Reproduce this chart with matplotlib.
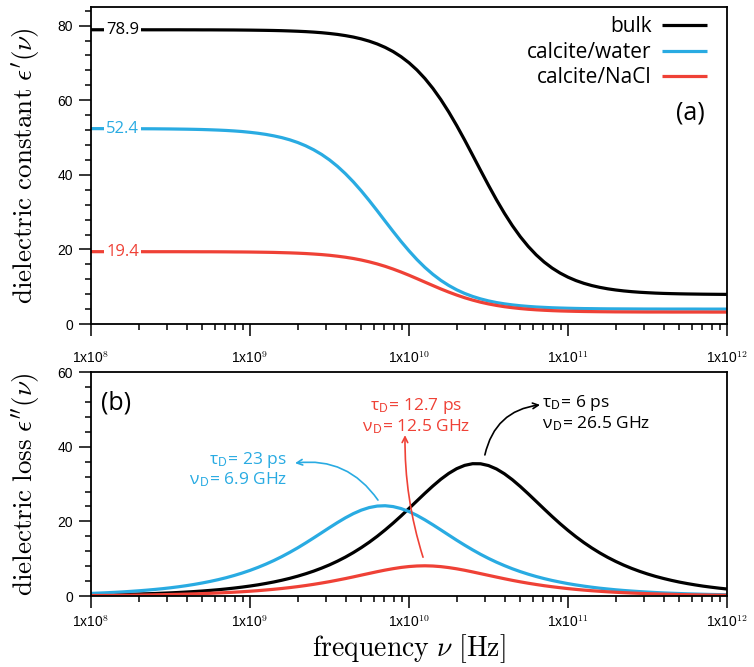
import numpy as np
import matplotlib
matplotlib.use("Agg")
import matplotlib.pyplot as plt

plt.rcParams['font.family'] = ['Liberation Sans', 'DejaVu Sans']
plt.rcParams['mathtext.fontset'] = 'cm'

# frequency grid, 20 points per decade from 1e8 to 1e12 Hz
freq = np.logspace(8, 12, 81)

# dielectric constant eps'(nu)
bulk_real = [78.90, 78.90, 78.90, 78.90, 78.90, 78.90, 78.90, 78.89, 78.89, 78.89,
             78.89, 78.89, 78.88, 78.88, 78.87, 78.87, 78.86, 78.85, 78.84, 78.82,
             78.80, 78.77, 78.74, 78.70, 78.65, 78.58, 78.50, 78.40, 78.27, 78.11,
             77.90, 77.65, 77.33, 76.94, 76.45, 75.84, 75.09, 74.17, 73.05, 71.68,
             70.05, 68.11, 65.83, 63.19, 60.19, 56.85, 53.21, 49.33, 45.29, 41.21,
             37.19, 33.32, 29.70, 26.38, 23.41, 20.80, 18.54, 16.62, 15.01, 13.67,
             12.56, 11.65, 10.91, 10.31, 9.83, 9.44, 9.13, 8.88, 8.68, 8.52,
             8.40, 8.29, 8.21, 8.15, 8.10, 8.06, 8.03, 8.00, 7.98, 7.96, 7.95]
water_real = [52.39, 52.39, 52.38, 52.38, 52.37, 52.37, 52.36, 52.35, 52.34, 52.32,
              52.30, 52.27, 52.24, 52.20, 52.15, 52.08, 52.00, 51.90, 51.77, 51.61,
              51.40, 51.15, 50.84, 50.45, 49.98, 49.39, 48.67, 47.79, 46.73, 45.48,
              44.00, 42.28, 40.31, 38.11, 35.69, 33.09, 30.37, 27.58, 24.82, 22.14,
              19.62, 17.28, 15.18, 13.33, 11.71, 10.34, 9.17, 8.20, 7.40, 6.74,
              6.20, 5.76, 5.41, 5.13, 4.90, 4.72, 4.57, 4.46, 4.36, 4.29,
              4.23, 4.18, 4.14, 4.12, 4.09, 4.07, 4.06, 4.05, 4.04, 4.03,
              4.02, 4.02, 4.01, 4.01, 4.01, 4.01, 4.01, 4.00, 4.00, 4.00, 4.00]
nacl_real = [19.40, 19.40, 19.40, 19.40, 19.40, 19.40, 19.40, 19.39, 19.39, 19.39,
             19.39, 19.39, 19.38, 19.38, 19.37, 19.37, 19.36, 19.35, 19.33, 19.32,
             19.30, 19.27, 19.24, 19.20, 19.14, 19.08, 19.00, 18.90, 18.77, 18.62,
             18.43, 18.19, 17.91, 17.57, 17.16, 16.67, 16.11, 15.47, 14.74, 13.94,
             13.08, 12.17, 11.24, 10.32, 9.41, 8.56, 7.77, 7.05, 6.42, 5.86,
             5.39, 4.99, 4.65, 4.38, 4.15, 3.96, 3.81, 3.69, 3.59, 3.51,
             3.45, 3.40, 3.36, 3.33, 3.30, 3.28, 3.26, 3.25, 3.24, 3.23,
             3.22, 3.22, 3.22, 3.21, 3.21, 3.21, 3.21, 3.21, 3.20, 3.20, 3.20]

# dielectric loss eps''(nu)
bulk_imag = [0.27, 0.30, 0.34, 0.38, 0.42, 0.48, 0.54, 0.60, 0.67, 0.76,
             0.85, 0.95, 1.07, 1.20, 1.34, 1.51, 1.69, 1.90, 2.13, 2.39,
             2.68, 3.00, 3.37, 3.77, 4.23, 4.74, 5.32, 5.96, 6.67, 7.47,
             8.35, 9.34, 10.43, 11.64, 12.97, 14.42, 16.00, 17.71, 19.53, 21.45,
             23.46, 25.49, 27.52, 29.47, 31.28, 32.85, 34.12, 35.00, 35.45, 35.43,
             34.95, 34.04, 32.75, 31.16, 29.34, 27.38, 25.35, 23.31, 21.31, 19.39,
             17.58, 15.88, 14.31, 12.87, 11.55, 10.35, 9.27, 8.29, 7.41, 6.62,
             5.91, 5.27, 4.71, 4.20, 3.74, 3.34, 2.98, 2.65, 2.37, 2.11, 1.88]
water_imag = [0.70, 0.79, 0.88, 0.99, 1.11, 1.25, 1.40, 1.57, 1.76, 1.97,
              2.21, 2.48, 2.78, 3.12, 3.50, 3.92, 4.39, 4.91, 5.50, 6.15,
              6.87, 7.67, 8.55, 9.51, 10.56, 11.70, 12.91, 14.21, 15.56, 16.94,
              18.33, 19.68, 20.95, 22.08, 23.01, 23.70, 24.10, 24.19, 23.96, 23.43,
              22.63, 21.60, 20.40, 19.09, 17.72, 16.33, 14.95, 13.63, 12.37, 11.18,
              10.08, 9.07, 8.15, 7.30, 6.54, 5.85, 5.23, 4.67, 4.17, 3.73,
              3.32, 2.97, 2.65, 2.36, 2.10, 1.88, 1.67, 1.49, 1.33, 1.19,
              1.06, 0.94, 0.84, 0.75, 0.67, 0.59, 0.53, 0.47, 0.42, 0.38, 0.33]
nacl_imag = [0.13, 0.15, 0.16, 0.18, 0.21, 0.23, 0.26, 0.29, 0.33, 0.37,
             0.41, 0.46, 0.52, 0.58, 0.65, 0.73, 0.82, 0.92, 1.03, 1.15,
             1.29, 1.44, 1.62, 1.81, 2.02, 2.26, 2.52, 2.81, 3.13, 3.48,
             3.85, 4.26, 4.68, 5.13, 5.60, 6.06, 6.52, 6.95, 7.33, 7.66,
             7.90, 8.05, 8.10, 8.04, 7.88, 7.62, 7.29, 6.90, 6.46, 6.00,
             5.54, 5.08, 4.63, 4.20, 3.80, 3.43, 3.09, 2.77, 2.49, 2.23,
             1.99, 1.78, 1.59, 1.42, 1.27, 1.13, 1.01, 0.90, 0.80, 0.72,
             0.64, 0.57, 0.51, 0.45, 0.40, 0.36, 0.32, 0.29, 0.25, 0.23, 0.20]

labels = ['bulk', 'calcite/water', 'calcite/NaCl']
colors = ['black', '#29abe2', '#ef4136']
static = ['78.9', '52.4', '19.4']
static_val = [78.9, 52.4, 19.4]
tau_text = ['τ$_\\mathsf{D}$= 6 ps\nν$_\\mathsf{D}$= 26.5 GHz',
            'τ$_\\mathsf{D}$= 23 ps\nν$_\\mathsf{D}$= 6.9 GHz',
            'τ$_\\mathsf{D}$= 12.7 ps\nν$_\\mathsf{D}$= 12.5 GHz']

decades = [1e8, 1e9, 1e10, 1e11, 1e12]
decade_labels = ['1x10$^{\\mathsf{%d}}$' % e for e in range(8, 13)]

annot_font = 'Open Sans'

fig = plt.figure(figsize=(7.54, 6.67), dpi=100)
ax1 = fig.add_axes([0.1207, 0.5142, 0.8435, 0.4753])
ax2 = fig.add_axes([0.1207, 0.1064, 0.8435, 0.3358])

for lab, c, yr, yi in zip(labels, colors, [bulk_real, water_real, nacl_real],
                          [bulk_imag, water_imag, nacl_imag]):
    ax1.plot(freq, yr, color=c, lw=2.3, label=lab, solid_capstyle='butt')
    ax2.plot(freq, yi, color=c, lw=2.3, solid_capstyle='butt')

for ax in (ax1, ax2):
    ax.set_xscale('log')
    ax.set_xlim(1e8, 1e12)
    ax.set_xticks(decades)
    ax.set_xticklabels(decade_labels)
    ax.xaxis.set_minor_locator(matplotlib.ticker.LogLocator(base=10, subs=np.arange(2, 10)))
    ax.xaxis.set_minor_formatter(matplotlib.ticker.NullFormatter())
    ax.tick_params(which='major', direction='out', length=8.9, width=1.1,
                   labelsize=10, pad=4)
    ax.tick_params(which='minor', direction='out', length=4, width=1.1)
    for s in ax.spines.values():
        s.set_linewidth(1.3)
ax1.tick_params(axis='x', which='major', pad=10)

ax1.set_ylim(0, 85)
ax1.set_yticks([0, 20, 40, 60, 80])
ax1.yaxis.set_minor_locator(matplotlib.ticker.MultipleLocator(4))
ax2.set_ylim(0, 60)
ax2.set_yticks([0, 20, 40, 60])
ax2.yaxis.set_minor_locator(matplotlib.ticker.MultipleLocator(4))

ax1.set_ylabel(r'$\mathrm{dielectric\ constant}\ \epsilon^{\prime}(\nu)$', fontsize=19.5)
ax2.set_ylabel(r'$\mathrm{dielectric\ loss}\ \epsilon^{\prime\prime}(\nu)$', fontsize=19.5)
ax2.set_xlabel(r'$\mathrm{frequency}\ \nu\ [\mathrm{Hz}]$', fontsize=20)
ax1.yaxis.set_label_coords(-0.077, 0.5)
ax2.yaxis.set_label_coords(-0.077, 0.5)
ax2.xaxis.set_label_coords(0.5, -0.16)

# static permittivity labels on the plateau
for txt, v, c in zip(static, static_val, colors):
    ax1.text(0.05, v, txt, color=c, fontsize=12, family=annot_font,
             ha='center', va='center', transform=ax1.get_yaxis_transform(),
             bbox=dict(facecolor='white', edgecolor='none', pad=1.5))

leg = ax1.legend(loc='upper right', bbox_to_anchor=(0.998, 1.03), frameon=False,
                 markerfirst=False, handlelength=2.15, handletextpad=0.5,
                 labelspacing=0.22, prop={'family': annot_font, 'size': 15})
for t in leg.get_texts():
    t.set_ha('right')
leg._legend_box.align = 'right'

ax1.text(0.965, 0.666, '(a)', transform=ax1.transAxes, ha='right', va='center',
         fontsize=18, family=annot_font)
ax2.text(0.015, 0.862, '(b)', transform=ax2.transAxes, ha='left', va='center',
         fontsize=18, family=annot_font)

# relaxation time annotations
ax2.text(6.9e10, 49.0, tau_text[0], color=colors[0], ha='left', va='center',
         fontsize=12.5, family=annot_font, linespacing=1.05)
ax2.annotate('', xy=(6.67e10, 51.2), xytext=(3.0e10, 37.8),
             arrowprops=dict(arrowstyle='->', color=colors[0], lw=1.2,
                             connectionstyle='arc3,rad=-0.35', shrinkA=0, shrinkB=0))
ax2.text(1.71e9, 33.9, tau_text[1], color=colors[1], ha='right', va='center',
         fontsize=12.5, family=annot_font, linespacing=1.05)
ax2.annotate('', xy=(1.92e9, 35.6), xytext=(6.38e9, 25.7),
             arrowprops=dict(arrowstyle='->', color=colors[1], lw=1.2,
                             connectionstyle='arc3,rad=0.3', shrinkA=0, shrinkB=0))
ax2.text(1.107e10, 48.2, tau_text[2], color=colors[2], ha='center', va='center',
         fontsize=12.5, family=annot_font, linespacing=1.05)
ax2.annotate('', xy=(9.44e9, 43.1), xytext=(1.225e10, 10.4),
             arrowprops=dict(arrowstyle='->', color=colors[2], lw=1.2,
                             connectionstyle='arc3,rad=-0.08', shrinkA=0, shrinkB=0))

fig.savefig('out.png', dpi=100)
